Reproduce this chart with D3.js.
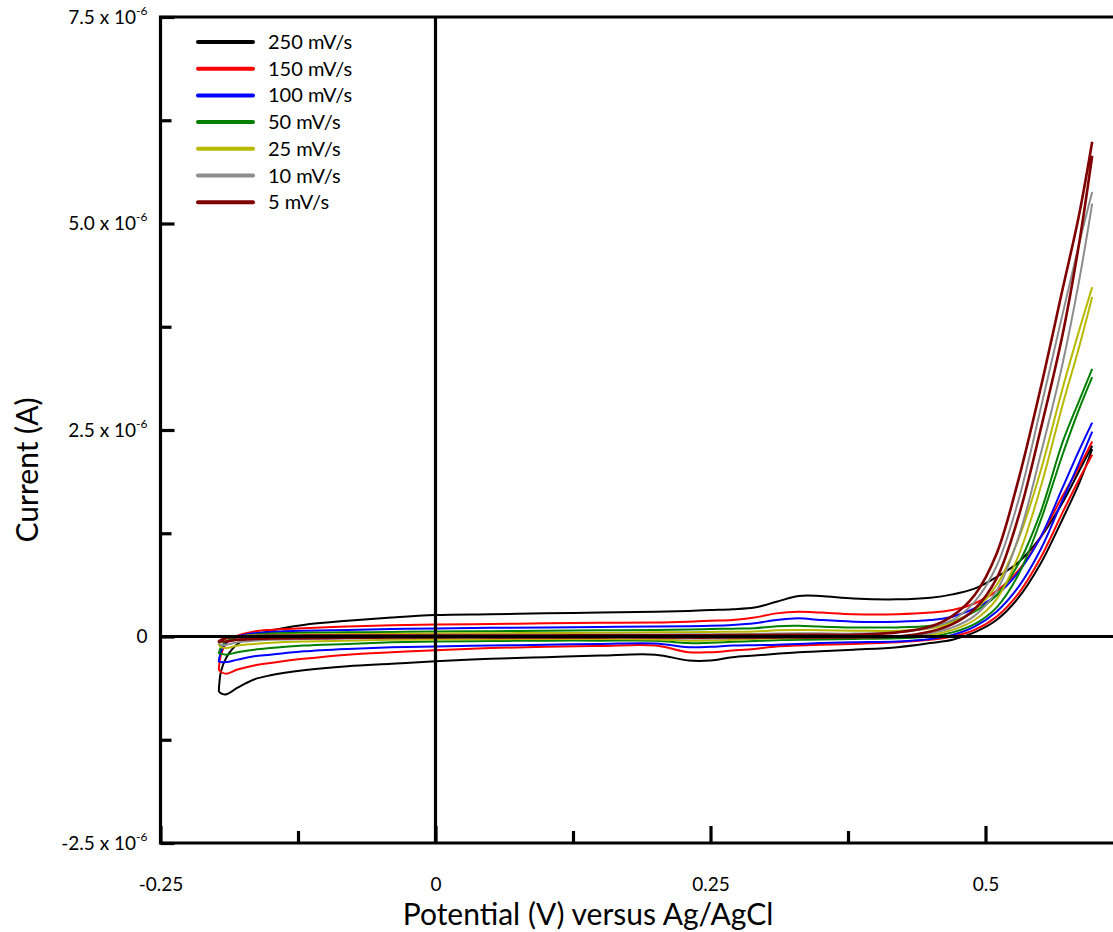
<!DOCTYPE html>
<html><head><meta charset="utf-8">
<script src="https://cdn.jsdelivr.net/npm/d3@7"></script>
<style>
body{margin:0;background:#fff;}
svg{display:block;}
text{font-family:Lato,"Open Sans",sans-serif;fill:#000;}
</style>
</head><body>
<svg id="chart" width="1113" height="932"></svg>
<script>
// Potential grid (V vs Ag/AgCl), shared by every sweep
const potential = [-0.197,-0.195,-0.19,-0.18,-0.165,-0.15,-0.12,-0.08,-0.04,0,0.05,0.1,0.15,0.2,0.23,0.25,0.27,0.29,0.31,0.33,0.35,0.38,0.42,0.45,0.47,0.49,0.51,0.53,0.55,0.57,0.585,0.597];

// Currents in µA (x 10^-6 A); forward = anodic sweep, reverse = cathodic sweep (listed on the same potential grid)
const fwd250 = [-0.66,-0.42,-0.25,-0.09,0.01,0.07,0.14,0.19,0.23,0.26,0.27,0.28,0.29,0.30,0.31,0.32,0.33,0.35,0.42,0.49,0.49,0.46,0.45,0.47,0.51,0.58,0.72,0.90,1.20,1.62,2.00,2.31];
const rev250 = [-0.66,-0.69,-0.70,-0.62,-0.52,-0.47,-0.41,-0.36,-0.33,-0.30,-0.27,-0.25,-0.23,-0.22,-0.29,-0.29,-0.25,-0.23,-0.21,-0.19,-0.18,-0.16,-0.13,-0.08,-0.04,0.05,0.20,0.47,0.88,1.42,1.85,2.27];
const fwd150 = [-0.40,-0.22,-0.08,0.01,0.06,0.08,0.10,0.12,0.135,0.145,0.15,0.16,0.165,0.17,0.18,0.19,0.20,0.23,0.28,0.30,0.29,0.27,0.27,0.29,0.32,0.40,0.55,0.80,1.20,1.70,2.05,2.36];
const rev150 = [-0.40,-0.43,-0.45,-0.40,-0.35,-0.32,-0.27,-0.22,-0.19,-0.165,-0.14,-0.125,-0.115,-0.11,-0.19,-0.19,-0.17,-0.15,-0.12,-0.11,-0.10,-0.09,-0.07,-0.04,0.00,0.08,0.24,0.52,0.95,1.50,1.90,2.20];
const fwd100 = [-0.30,-0.18,-0.07,0.00,0.04,0.055,0.07,0.08,0.09,0.097,0.105,0.11,0.115,0.12,0.125,0.13,0.14,0.16,0.20,0.22,0.20,0.18,0.18,0.20,0.24,0.34,0.50,0.78,1.20,1.80,2.25,2.59];
const rev100 = [-0.30,-0.31,-0.31,-0.28,-0.24,-0.22,-0.18,-0.15,-0.13,-0.12,-0.11,-0.10,-0.09,-0.085,-0.13,-0.125,-0.11,-0.105,-0.10,-0.09,-0.08,-0.07,-0.06,-0.03,0.02,0.12,0.30,0.60,1.05,1.65,2.10,2.48];
const fwd50 = [-0.20,-0.13,-0.06,-0.01,0.02,0.035,0.045,0.05,0.055,0.06,0.065,0.07,0.075,0.08,0.085,0.09,0.095,0.10,0.125,0.13,0.12,0.11,0.11,0.13,0.18,0.30,0.50,0.88,1.50,2.35,2.85,3.24];
const rev50 = [-0.20,-0.21,-0.22,-0.19,-0.16,-0.14,-0.11,-0.09,-0.07,-0.06,-0.055,-0.05,-0.05,-0.05,-0.08,-0.075,-0.065,-0.055,-0.045,-0.04,-0.035,-0.03,-0.02,0.00,0.05,0.15,0.35,0.75,1.40,2.20,2.75,3.14];
const fwd25 = [-0.10,-0.06,-0.02,0.00,0.015,0.02,0.025,0.03,0.033,0.036,0.04,0.042,0.045,0.05,0.052,0.055,0.057,0.06,0.075,0.08,0.075,0.07,0.07,0.10,0.17,0.32,0.62,1.18,2.00,3.00,3.70,4.23];
const rev25 = [-0.10,-0.13,-0.14,-0.11,-0.09,-0.075,-0.06,-0.05,-0.04,-0.036,-0.033,-0.03,-0.03,-0.035,-0.05,-0.048,-0.04,-0.03,-0.025,-0.02,-0.015,-0.01,0.00,0.02,0.08,0.20,0.45,0.98,1.80,2.80,3.50,4.11];
const fwd10 = [-0.08,-0.05,-0.02,0.00,0.01,0.012,0.015,0.017,0.018,0.02,0.021,0.022,0.023,0.025,0.026,0.027,0.028,0.03,0.037,0.04,0.038,0.035,0.05,0.11,0.20,0.42,0.85,1.65,2.75,3.90,4.75,5.38];
const rev10 = [-0.08,-0.10,-0.10,-0.07,-0.05,-0.04,-0.03,-0.025,-0.02,-0.015,-0.015,-0.015,-0.015,-0.018,-0.025,-0.024,-0.022,-0.02,-0.018,-0.015,-0.012,-0.01,0.00,0.04,0.11,0.25,0.55,1.20,2.20,3.30,4.30,5.24];
const fwd5 = [-0.06,-0.04,-0.02,-0.005,0.005,0.008,0.01,0.011,0.012,0.012,0.013,0.013,0.014,0.015,0.015,0.016,0.017,0.018,0.02,0.02,0.02,0.02,0.05,0.12,0.25,0.50,1.00,1.90,3.00,4.20,5.10,5.99];
const rev5 = [-0.06,-0.06,-0.06,-0.04,-0.03,-0.025,-0.02,-0.015,-0.012,-0.01,-0.01,-0.01,-0.01,-0.01,-0.013,-0.013,-0.012,-0.011,-0.01,-0.01,-0.01,-0.01,0.00,0.06,0.15,0.33,0.70,1.45,2.50,3.65,4.75,5.82];

const seriesNames = ["250 mV/s","150 mV/s","100 mV/s","50 mV/s","25 mV/s","10 mV/s","5 mV/s"];
const seriesColors = ["#000000","#ff0000","#0000ff","#008000","#b8b800","#8c8c8c","#800000"];
const forwardSweeps = [fwd250,fwd150,fwd100,fwd50,fwd25,fwd10,fwd5];
const reverseSweeps = [rev250,rev150,rev100,rev50,rev25,rev10,rev5];

const yMajorTicks = [-2.5e-6,0,2.5e-6,5e-6,7.5e-6];
const yMajorLabels = [["-2.5 x 10","-6"],["0",""],["2.5 x 10","-6"],["5.0 x 10","-6"],["7.5 x 10","-6"]];
const yMinorTicks = [-1.25e-6,1.25e-6,3.75e-6,6.25e-6];
const xMajorTicks = [-0.25,0,0.25,0.5];
const xMajorLabels = ["-0.25","0","0.25","0.5"];
const xMinorTicks = [-0.125,0.125,0.375];

const svg = d3.select("#chart");
const plotLeft = 160.5, plotTop = 17, plotBottom = 843;
const x = d3.scaleLinear().domain([-0.25,0.625]).range([plotLeft, plotLeft + 1100*0.875]);
const y = d3.scaleLinear().domain([-2.5e-6,7.5e-6]).range([plotBottom, plotTop]);
const W = 3.2;

// series: reverse sweep (0.6 -> -0.2) joined to the forward sweep (-0.2 -> 0.6), both ends free at the anodic limit
const line = d3.line().x(d=>x(d[0])).y(d=>y(d[1]*1e-6)).curve(d3.curveCatmullRom.alpha(0.5));
const g = svg.append("g");
seriesNames.forEach((name,k)=>{
  const f = potential.map((e,i)=>[e, forwardSweeps[k][i]]);
  const r = potential.map((e,i)=>[e, reverseSweeps[k][i]]).reverse();
  g.append("path").attr("d", line(r.concat(f)))
    .attr("fill","none").attr("stroke",seriesColors[k])
    .attr("stroke-width", k===6 ? 2.6 : 2).attr("stroke-linejoin","round");
});

// zero lines
svg.append("line").attr("x1",x(0)).attr("x2",x(0)).attr("y1",y(7.5e-6)).attr("y2",y(-2.5e-6)).attr("stroke","#000").attr("stroke-width",W);
svg.append("line").attr("x1",plotLeft).attr("x2",1125).attr("y1",y(0)).attr("y2",y(0)).attr("stroke","#000").attr("stroke-width",W);

// frame
svg.append("path").attr("d",`M1125,${plotTop}H${plotLeft}V${plotBottom}H1125`).attr("fill","none").attr("stroke","#000").attr("stroke-width",W).attr("stroke-linecap","square");

// y axis ticks
const yMaj = svg.append("g").attr("transform",`translate(${plotLeft},0)`)
  .call(d3.axisRight(y).tickValues(yMajorTicks).tickSizeInner(14).tickSizeOuter(0).tickFormat(""));
const yMin = svg.append("g").attr("transform",`translate(${plotLeft},0)`)
  .call(d3.axisRight(y).tickValues(yMinorTicks).tickSizeInner(11).tickSizeOuter(0).tickFormat(""));
[yMaj,yMin].forEach(a=>{a.select(".domain").remove(); a.selectAll(".tick line").attr("stroke","#000").attr("stroke-width",W);});
yMaj.selectAll(".tick").each(function(d,i){
  const t = d3.select(this).append("text").attr("x",-13).attr("y",6).attr("text-anchor","end").attr("font-size",19);
  t.append("tspan").text(yMajorLabels[i][0]);
  if (yMajorLabels[i][1]) t.append("tspan").attr("font-size",12).attr("dy",-9).text(yMajorLabels[i][1]);
});

// x axis ticks
const xMaj = svg.append("g").attr("transform",`translate(0,${plotBottom})`)
  .call(d3.axisTop(x).tickValues(xMajorTicks).tickSizeInner(17).tickSizeOuter(0).tickFormat(""));
const xMin = svg.append("g").attr("transform",`translate(0,${plotBottom})`)
  .call(d3.axisTop(x).tickValues(xMinorTicks).tickSizeInner(12).tickSizeOuter(0).tickFormat(""));
[xMaj,xMin].forEach(a=>{a.select(".domain").remove(); a.selectAll(".tick line").attr("stroke","#000").attr("stroke-width",W);});
xMaj.selectAll(".tick").append("text").attr("y",48).attr("text-anchor","middle").attr("font-size",19)
  .text((d,i)=>xMajorLabels[i]);

// axis titles
svg.append("text").attr("x",588).attr("y",925).attr("text-anchor","middle").attr("font-size",30)
  .text("Potential (V) versus Ag/AgCl");
svg.append("text").attr("transform","translate(38,470) rotate(-90)").attr("text-anchor","middle").attr("font-size",30)
  .text("Current (A)");

// legend
const lg = svg.append("g");
seriesNames.forEach((name,k)=>{
  const yy = 42 + k*26.7;
  lg.append("line").attr("x1",198).attr("x2",253).attr("y1",yy).attr("y2",yy)
    .attr("stroke",seriesColors[k]).attr("stroke-width",4).attr("stroke-linecap","round");
  lg.append("text").attr("x",268).attr("y",yy+7).attr("font-size",20).text(name);
});
</script>
</body></html>
